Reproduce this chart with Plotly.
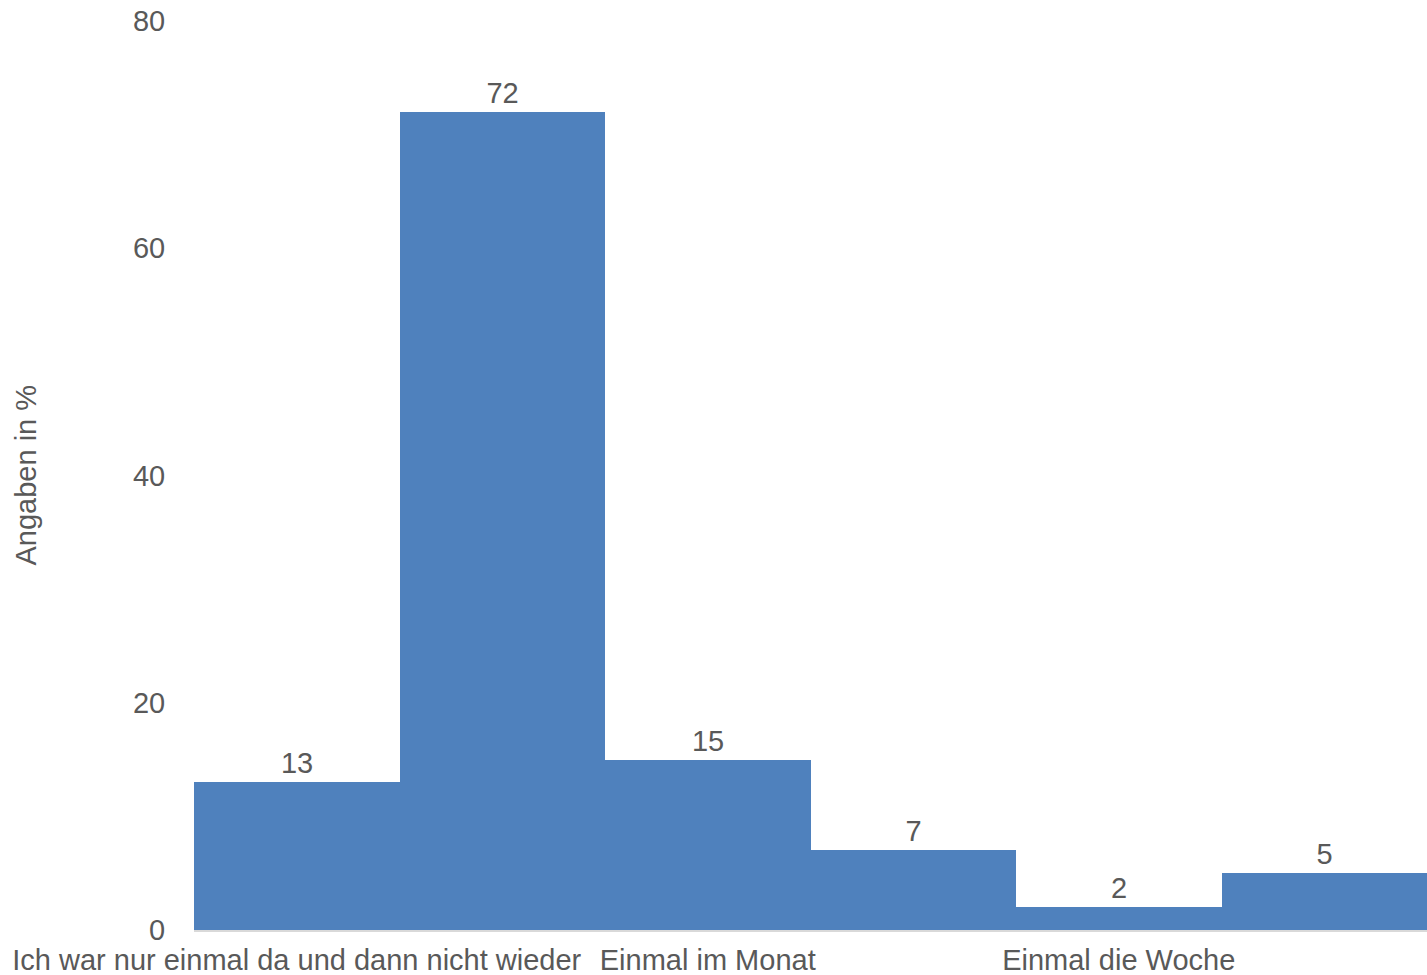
import plotly.graph_objects as go

categories = [
    "Ich war nur einmal da und dann nicht wieder",
    "Seltener als einmal im Monat",
    "Einmal im Monat",
    "Mehrmals im Monat",
    "Einmal die Woche",
    "Mehrmals die Woche",
]
values = [13, 72, 15, 7, 2, 5]
shown_ticks = [categories[0], categories[2], categories[4]]
y_ticks = [0, 20, 40, 60, 80]

TEXT = "#595959"
FONT = "Liberation Sans, Arial, Helvetica, sans-serif"
FS = 29

fig = go.Figure(
    go.Bar(
        x=categories,
        y=values,
        marker=dict(color="#4F81BD", line=dict(width=0)),
        text=[str(v) for v in values],
        textposition="outside",
        textfont=dict(size=FS, color=TEXT, family=FONT),
        cliponaxis=False,
    )
)

fig.update_layout(
    width=1427,
    height=975,
    margin=dict(l=194, r=0, t=21, b=45),
    paper_bgcolor="white",
    plot_bgcolor="white",
    bargap=0,
    showlegend=False,
    font=dict(family=FONT, size=FS, color=TEXT),
)

fig.update_xaxes(
    type="category",
    tickmode="array",
    tickvals=shown_ticks,
    ticktext=shown_ticks,
    tickfont=dict(size=FS, color=TEXT, family=FONT),
    showline=True,
    linecolor="#D9D9D9",
    linewidth=2,
    showgrid=False,
    ticks="outside",
    ticklen=3,
    tickcolor="rgba(0,0,0,0)",
    automargin=False,
)

fig.update_yaxes(
    range=[0, 80],
    tickmode="array",
    tickvals=y_ticks,
    tickfont=dict(size=FS, color=TEXT, family=FONT),
    showgrid=False,
    zeroline=False,
    showline=False,
    ticks="outside",
    ticklen=22,
    tickcolor="rgba(0,0,0,0)",
    automargin=False,
)

fig.add_annotation(
    text="Angaben in %",
    xref="paper",
    yref="paper",
    x=0,
    y=0.5,
    xanchor="center",
    yanchor="middle",
    xshift=-169,
    textangle=-90,
    showarrow=False,
    font=dict(size=FS, color=TEXT, family=FONT),
)

fig.write_html("out.html")
